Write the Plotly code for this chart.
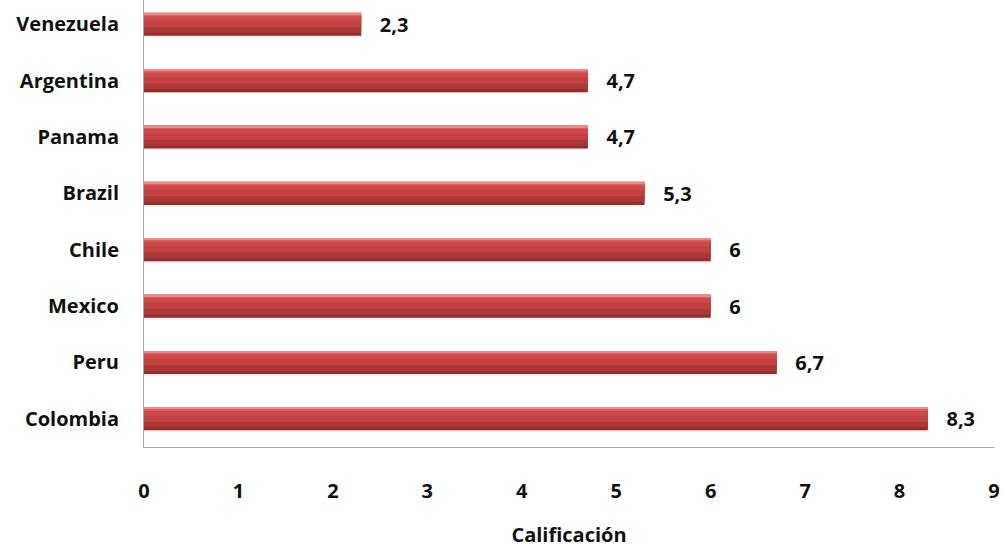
import plotly.graph_objects as go

countries = ["Colombia", "Peru", "Mexico", "Chile", "Brazil", "Panama", "Argentina", "Venezuela"]
scores = [8.3, 6.7, 6.0, 6.0, 5.3, 4.7, 4.7, 2.3]
x_ticks = [0, 1, 2, 3, 4, 5, 6, 7, 8, 9]

FONT = "Open Sans"
FS = 20
fig = go.Figure()

# layered bars to mimic the 3D gradient look
layers = [
    # (offset, width, color)
    (-0.235, 0.41, "rgba(0,0,0,0.06)"),   # soft shadow
    (-0.205, 0.41, "#952d2d"),
    (-0.15, 0.30, "#ad3838"),
    (-0.05, 0.20, "#c24242"),
    (0.06, 0.10, "#cf4a4a"),
    (0.14, 0.045, "#dc5d5d"),
    (0.175, 0.03, "#ec8a8a"),
]
for off, w, col in layers:
    fig.add_trace(go.Bar(
        y=countries, x=scores, orientation="h",
        offset=off, width=w,
        marker=dict(color=col, line=dict(width=0)),
        hoverinfo="skip", showlegend=False,
    ))

# value labels
fig.add_trace(go.Bar(
    y=countries, x=scores, orientation="h",
    offset=-0.205, width=0.41,
    marker=dict(color="rgba(0,0,0,0)", line=dict(width=0)),
    text=[("%g" % v).replace(".", ",") for v in scores],
    texttemplate="   %{text}",
    textposition="outside",
    constraintext="none",
    textfont=dict(family=FONT, size=FS, color="#111111", weight="bold"),
    cliponaxis=False,
    showlegend=False,
))

fig.update_layout(
    width=1004, height=548,
    margin=dict(l=144, r=10, t=0, b=101),
    plot_bgcolor="white", paper_bgcolor="white",
    barmode="overlay",
    uniformtext=dict(mode=False),
    font=dict(family=FONT, size=FS, color="#111111", weight="bold"),
    xaxis=dict(
        range=[0, 9], tickvals=x_ticks, showgrid=False, zeroline=False,
        showline=True, linecolor="#aaaaaa", linewidth=1,
        ticks="", ticklabelstandoff=26,
        tickfont=dict(family=FONT, size=FS, color="#111111", weight="bold"),
        title=dict(text="Calificación", standoff=27,
                   font=dict(family=FONT, size=FS, color="#111111", weight="bold")),
    ),
    yaxis=dict(
        range=[-0.5, 7.43], showgrid=False, zeroline=False,
        showline=True, linecolor="#aaaaaa", linewidth=1,
        ticks="", ticklabelstandoff=20,
        tickfont=dict(family=FONT, size=FS, color="#111111", weight="bold"),
    ),
)

fig.write_html("out.html")
